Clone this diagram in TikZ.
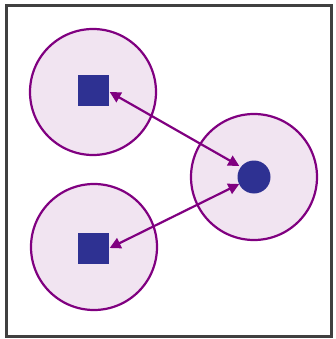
\documentclass[tikz,border=0pt]{standalone}
\usetikzlibrary{arrows.meta,calc}
\definecolor{pur}{HTML}{800080}
\definecolor{lav}{HTML}{F1E4F1}
\definecolor{navy}{HTML}{2E3192}
\begin{document}
\begin{tikzpicture}[x=1pt,y=-1pt,
  zone/.style={circle,draw=pur,fill=lav,line width=2.2pt,minimum size=126pt,inner sep=0pt},
  sq/.style={rectangle,fill=navy,minimum size=31pt,inner sep=0pt},
  dot/.style={circle,fill=navy,minimum size=33pt,inner sep=0pt},
  link/.style={draw=pur,line width=2.2pt,{Triangle[length=11pt,width=11pt]}-{Triangle[length=11pt,width=11pt]}}]
\useasboundingbox (0,0) rectangle (336,339);
\node[draw=black!75,line width=2.6pt,minimum width=325pt,minimum height=331pt,inner sep=0pt] (frame) at (169,171) {};
\node[zone] (c1) at (93,92) {};
\node[zone] (c2) at (94,247) {};
\node[zone] (c3) at (254,177) {};
\node[sq] (s1) at (93,91) {};
\node[sq] (s2) at (93,248) {};
\node[dot] (d) at (254,177) {};
\draw[link] ($(s1.east)+(1,1)$) -- ($(d.west)+(2,-11)$);
\draw[link] ($(s2.east)+(1,0)$) -- ($(d.west)+(2,7)$);
\end{tikzpicture}
\end{document}
